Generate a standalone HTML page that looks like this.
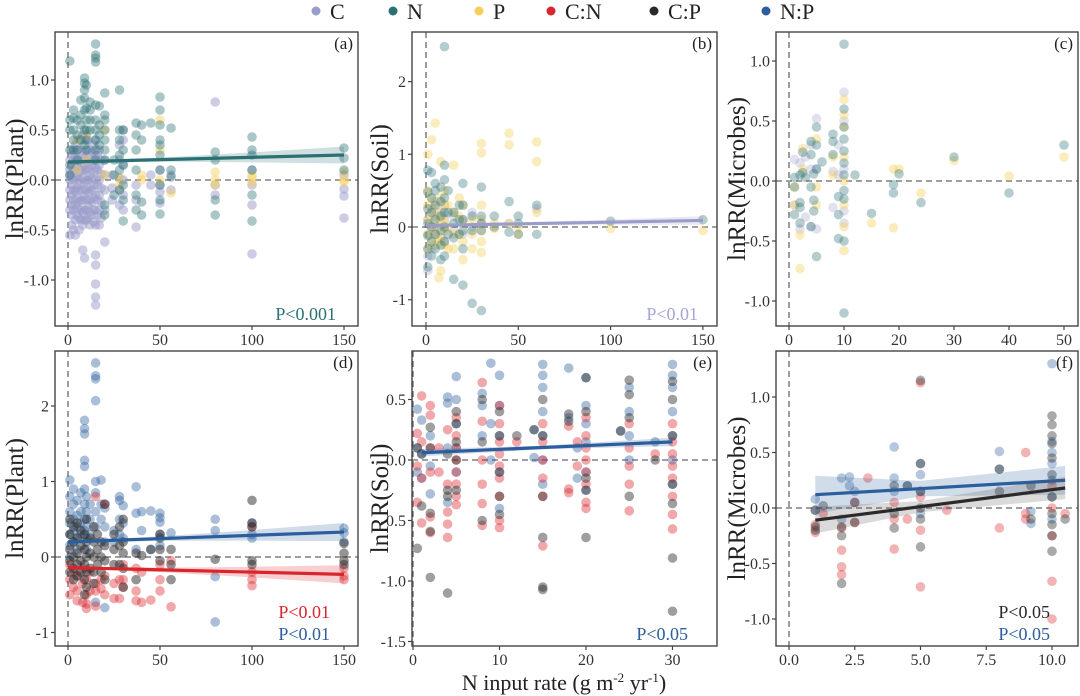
<!DOCTYPE html>
<html><head><meta charset="utf-8">
<style>
html,body{margin:0;padding:0;background:#fff;}
svg{display:block;font-family:"Liberation Serif",serif;}
</style></head>
<body>
<svg id="chart" width="1080" height="696" viewBox="0 0 1080 696" xmlns="http://www.w3.org/2000/svg">
<g id="legend"></g>
<g id="plots"></g>
<text x="564" y="690" text-anchor="middle" font-size="22" fill="#222">N input rate (g m<tspan font-size="13" dy="-8">-2</tspan><tspan dy="8"> yr</tspan><tspan font-size="13" dy="-8">-1</tspan><tspan dy="8">)</tspan></text>
</svg>
<script>
// ---- series colours ----
const COL = {C:'#9a9cca',N:'#2b7173',P:'#f4cf5c',CN:'#d9262c',CP:'#2a2a2a',NP:'#2b5e9c'};
const legendLabels = ['C','N','P','C:N','C:P','N:P'];
const legendKeys = ['C','N','P','CN','CP','NP'];

// ---- panel (a) plant: columns [x, [y...]] ----
const aC = [[1,[-0.55,-0.3,-0.2,-0.1,0,0.05,0.1,0.2]],[2,[-0.45,-0.35,-0.25,-0.15,-0.05,0.05,0.15,0.3]],[3,[-0.5,-0.3,-0.2,-0.1,0,0.1,0.2,0.25]],[4,[-0.55,-0.4,-0.25,-0.12,0.02,0.12,0.22,0.35]],[5,[-0.35,-0.28,-0.18,-0.08,0.04,0.14,0.3]],[6,[-0.5,-0.38,-0.22,-0.1,0,0.1,0.2,0.4]],[7,[-0.4,-0.3,-0.2,-0.05,0.08,0.18,0.3]],[8,[-0.7,-0.45,-0.32,-0.2,-0.1,0.02,0.12,0.25,0.45]],[9,[-0.78,-0.4,-0.3,-0.15,-0.02,0.1,0.22,0.4]],[10,[-0.4,-0.3,-0.2,-0.1,0,0.1,0.2,0.3,0.45]],[11,[-0.38,-0.25,-0.12,0,0.12,0.25,0.4]],[12,[-0.45,-0.32,-0.2,-0.08,0.05,0.18,0.3]],[13,[-0.35,-0.22,-0.1,0.02,0.15,0.28]],[14,[-0.42,-0.3,-0.18,-0.05,0.08,0.2,0.35]],[15,[-1.25,-1.17,-1.04,-0.85,-0.75,-0.45,-0.3,-0.15,0,0.12,0.25,0.4]],[16,[-0.35,-0.2,-0.05,0.1,0.25]],[17,[-0.45,-0.3,-0.15,0,0.15,0.3]],[18,[-0.38,-0.22,-0.08,0.06,0.2]],[20,[-0.62,-0.3,-0.1,0.05,0.2]],[24,[-0.2,-0.08,0.05]],[28,[-0.25,-0.1,0.02,0.2,0.35]],[30,[-0.3,-0.15,0,0.15,0.4,0.5]],[37,[-0.47,-0.2,-0.05]],[45,[0.05,-0.05]],[50,[-0.23,-0.12,-0.05,0.1]],[56,[-0.1,0.05]],[80,[0.78,-0.15,-0.05]],[100,[-0.74,-0.25,0.1,-0.05]],[150,[-0.38,-0.16,-0.09,0.05]]];
const aN = [[1,[1.19,0.6,0.5,0.3,0.15,0.05]],[3,[0.7,0.62,0.5,0.4,0.3]],[5,[0.6,0.45,0.3,0.2]],[7,[0.8,0.65,0.55,0.4]],[9,[1.02,0.97,0.9,0.82,0.7,0.5,0.35]],[10,[0.95,0.72,0.6,0.5,0.4,0.3]],[12,[0.78,0.7,0.6,0.5]],[15,[1.36,1.25,1.22,1.18,0.75,0.6,0.5,0.4,0.3,0.2]],[17,[0.74,0.55,0.45,0.35]],[20,[0.87,0.65,0.6,0.5,0.4,0.3,0.2,-0.25,-0.35]],[25,[0.2,0.05,-0.15]],[28,[0.9,0.5,0.4,0.25,0.1,-0.1]],[30,[0.5,0.3,0.15,-0.05,-0.2,-0.41]],[37,[0.57,0.45,0.3,0.1,-0.15,-0.3]],[40,[0.55,0.4,-0.22,-0.35]],[45,[0.57]],[50,[0.83,0.7,0.55,0.4,0.35,0.25,0.1,-0.05,-0.2,-0.34]],[56,[0.52,0.1,0.03]],[80,[0.28,0.2,-0.2,-0.35]],[100,[0.43,0.3,0.25,0.1,-0.15,-0.41]],[150,[0.32,0.22,0.1]]];
const aP = [[5,[0.4,0.1]],[10,[0.45,0.2]],[20,[0.5,0.05]],[28,[0.02,-0.05]],[40,[0.05,0]],[50,[0.6,0.3,0]],[56,[-0.13]],[80,[0.08,0,-0.05]],[100,[0.05,0.02,-0.03]],[150,[0.08,0,-0.02]]];
const aLineN = [[0,0.18],[150,0.25]];
const aBandN = [[0,0.025],[20,0.015],[50,0.02],[100,0.05],[150,0.085]];

// ---- panel (b) soil ----
const bN = [[1,[0.78,0.48,0.25,0.05,-0.12,-0.3,-0.55]],[3,[0.75,0.4,0.2,0,-0.2,-0.4]],[5,[0.6,0.5,0.3,0.1,-0.1,-0.3]],[8,[0.55,0.35,0.15,-0.05,-0.25,-0.45]],[10,[2.48,0.85,0.65,0.4,0.2,0,-0.2,-0.4]],[12,[0.5,0.2,-0.1]],[15,[0.2,0.05,-0.15,-0.72]],[18,[0.3,0.1,-0.1]],[20,[0.6,0.3,0.1,-0.05,-0.3,-0.8]],[25,[0.15,-0.05,-1.05]],[30,[0.55,0.15,0.05,-0.05,-1.15]],[37,[0.15,0]],[45,[0.35,-0.07]],[50,[0.15,0.05,-0.1]],[60,[0.3,-0.1]],[100,[0.08]],[150,[0.1]]];
const bP = [[1,[1.0,0.5,0.3,0.1,-0.1,-0.3]],[3,[1.2,0.4,0.2,0,-0.2]],[5,[1.43,0.3,0.1,-0.1,-0.25]],[7,[0.2,0,-0.2,-0.7]],[8,[0.9,0.4,0.1,-0.15,-0.6]],[10,[0.5,0.3,0.1,-0.05,-0.25]],[12,[0.3,0,-0.3]],[15,[0.85,0.2,-0.1,-0.3]],[18,[0.4,0.15,-0.1]],[20,[0.3,0.05,-0.2,-0.45]],[25,[0.1,-0.1,-0.3]],[30,[1.15,1.02,0.3,0.1,-0.05,-0.2,-0.35]],[37,[0.05,-0.02]],[45,[1.29,1.13,0.05]],[50,[-0.1,0]],[60,[1.17,0.9,0.2]],[100,[-0.02]],[150,[-0.05]]];
const bC = [[1,[0.1,-0.1,-0.4,-0.6]],[3,[0.25,0,-0.3]],[5,[0.35,0.15,-0.1]],[8,[0.2,-0.15]],[10,[0.3,0.1,-0.2]],[15,[0.15,-0.05]],[20,[0.1,-0.1]],[25,[0.2,0]],[30,[0.05]],[45,[0.05]],[60,[0.25]]];
const bLineC = [[0,0.02],[150,0.09]];
const bBandC = [[0,0.03],[30,0.015],[100,0.035],[150,0.06]];

// ---- panel (c) microbes ----
const cN = [[1,[0.03,-0.05,-0.28]],[2,[0.05,-0.18,-0.35,-0.22]],[2.5,[0.07,0.24]],[3,[0.03]],[4,[0.33,0.22,-0.05,-0.38]],[4.5,[0.06,-0.25,-0.16]],[5,[0.45,0.3,0.1,-0.63]],[6,[0.16]],[8,[0.39,0.33,0.22]],[9,[-0.13,-0.28,-0.48]],[10,[1.14,0.6,0.45,0.35,0.25,0.15,0.05,-0.08,-0.15,-0.5,-1.1]],[12,[0.05]],[15,[-0.27]],[19,[-0.03,-0.1]],[20,[0.06]],[24,[-0.18]],[30,[0.2]],[40,[-0.1]],[50,[0.3]]];
const cP = [[1,[-0.05,-0.2]],[2,[-0.45,-0.73]],[2.5,[0.27,0.1]],[5,[0.35,-0.05,-0.2]],[8,[0.2,0.05]],[10,[0.68,0.55,0.45,0.2,0,-0.2,-0.38,-0.58]],[15,[-0.35]],[19,[0.1,-0.39]],[20,[0.1]],[24,[-0.1]],[30,[0.17]],[40,[0.04]],[50,[0.2]]];
const cC = [[1,[0.18,-0.2]],[2,[0.15,-0.4]],[3,[0.2,-0.3]],[4,[0.3,0.1,-0.38]],[5,[0.52,0.1,-0.4]],[8,[0.08,-0.22]],[9,[0.3,0.05]],[10,[0.74,0.5,0.1,-0.25,-0.35]]];

// ---- panel (d) plant ratios ----
const dNP = [[1,[1.02,0.8,0.6,0.45,0.3,0.15,0]],[3,[0.9,0.7,0.5,0.35,0.2]],[5,[0.75,0.55,0.4,0.25,0.1]],[7,[0.85,0.6,0.45,0.3]],[9,[1.81,1.7,1.63,1.28,1.2,0.9,0.7,0.5,0.35]],[10,[0.8,0.6,0.4,0.25,0.1]],[12,[0.7,0.5,0.3]],[15,[2.57,2.4,2.36,2.07,1.0,0.85,0.6,0.4,-0.6]],[18,[1.02,0.7,0.5]],[20,[0.65,0.4,0.2,-0.67]],[25,[0.35,0.2]],[28,[0.8,0.75,0.5,0.3]],[30,[0.68,0.45,0.25]],[37,[0.93,0.58,0.1]],[40,[0.6,0.35]],[45,[0.61,0.1]],[50,[0.58,0.52,0.46,0.3,0.15]],[56,[0.32]],[80,[0.5,0.35,-0.26,-0.86]],[100,[0.45,0.3,0.25]],[150,[0.38,0.32,0.2]]];
const dCN = [[1,[-0.1,-0.3,-0.5]],[3,[-0.2,-0.4]],[5,[-0.25,-0.45,-0.58]],[8,[-0.15,-0.35,-0.6]],[10,[-0.3,-0.5,-0.62,-0.68]],[12,[-0.2,-0.45]],[15,[-0.35,-0.45,-0.65,0.8]],[18,[-0.3,-0.42]],[20,[0.7,-0.25,-0.5]],[25,[-0.35,-0.55]],[28,[-0.3,-0.55]],[30,[-0.1,-0.3,-0.4]],[37,[-0.15,-0.45,-0.58]],[40,[-0.2,-0.6]],[45,[-0.57]],[50,[-0.1,-0.3,-0.45]],[56,[-0.05,-0.66]],[100,[0.4,-0.2,-0.3,-0.38]],[150,[-0.15,-0.25,-0.3]]];
const dCP = [[1,[0.5,0.3,0.1,-0.05,-0.2]],[3,[0.4,0.2,0,-0.15,-0.3]],[5,[0.45,0.25,0.05,-0.1,-0.25]],[7,[0.35,0.15,-0.05,-0.2]],[9,[0.3,0.1,-0.1,-0.3,-0.5]],[10,[0.5,0.2,0,-0.2,-0.4]],[12,[0.25,0.05,-0.15]],[14,[0.4,0.2,0,-0.2,-0.35]],[16,[0.3,0.1,-0.1]],[18,[0.2,0,-0.2]],[20,[0.7,0.15,-0.05,-0.3]],[25,[0.3,0.1,-0.1]],[28,[0.4,0.15,-0.1]],[30,[0.5,0.2,0.05,-0.15,-0.4]],[37,[0.05,-0.3]],[40,[0.02]],[45,[0.1]],[50,[0.3,0.25,0.1,-0.05]],[56,[0.1,-0.1,-0.3]],[80,[-0.03]],[100,[0.75,0.45,0.4,-0.05,-0.1]],[150,[0.18,0.05,-0.1,-0.05]]];
const dLineNP = [[0,0.2],[150,0.33]];
const dBandNP = [[0,0.03],[20,0.02],[50,0.03],[100,0.07],[150,0.12]];
const dLineCN = [[0,-0.14],[150,-0.23]];
const dBandCN = [[0,0.03],[20,0.02],[50,0.03],[100,0.07],[150,0.12]];

// ---- panel (e) soil ratios ----
const eNP = [[0.5,[0.42,0.1,-0.1]],[1,[0.33,0.05,-0.15]],[2,[0.2,-0.05,-0.28]],[4,[0.52,0.47,0.1,-0.35]],[5,[0.69,0.5,0.3,0.1,-0.1]],[8,[0.55,0.45,0.2]],[9,[0.8,0.3,0]],[10,[0.7,0.45,0.2,-0.1,-0.4]],[14,[0.25,0.02]],[15,[0.79,0.7,0.6,0.4,0.2,0,-0.2]],[18,[0.76,0.35]],[19,[0.1,-0.15]],[20,[0.68,0.45,0.3,0.15,-0.1,-0.25]],[24,[0.24]],[25,[0.6,0.4,0.2,0]],[28,[0.15]],[30,[0.79,0.7,0.6,0.4,0.2,0,-0.2]]];
const eCN = [[0.5,[0.22,-0.05,-0.35]],[1,[0.53,0.15,-0.15,-0.52]],[2,[0.45,0.37,0.1,-0.1,-0.47,-0.6]],[3,[0.1,-0.1]],[4,[0.25,-0.2,-0.43,-0.53,-0.64]],[5,[0.35,0.2,0.1,0,-0.1,-0.2,-0.3,-0.37]],[8,[0.64,0.32,0,-0.2,-0.36,-0.54]],[10,[0.45,0.3,0.15,0.05,-0.05,-0.15,-0.3,-0.5,-0.56]],[12,[0.15]],[15,[0.3,0.15,0,-0.15,-0.3,-0.71]],[18,[0.28,-0.24,-0.27]],[19,[0.15,-0.05]],[20,[0.35,0.2,0.1,0,-0.1,-0.2,-0.35,-0.4]],[25,[0.3,0.1,-0.05,-0.2,-0.42]],[28,[0.05]],[30,[0.3,0.15,0.05,-0.05,-0.15,-0.3,-0.45,-0.57]]];
const eCP = [[0.5,[-0.73,0.1]],[1,[-0.38,0.05]],[2,[-0.44,-0.59,-0.97,0.27,0.1]],[4,[-0.25,-0.3,-1.1,0.05]],[5,[0.4,0.3,0.15,0,-0.25]],[8,[0.5,-0.5,0.15]],[10,[0.4,0.2,-0.1,-0.3,-0.45]],[12,[0.2]],[14,[0.25]],[15,[0.5,0.2,-0.3,-0.64,-1.05,-1.07]],[18,[0.38,0.32]],[20,[0.68,0.4,-0.15,-0.25,-0.64]],[24,[0.24]],[25,[0.66,0.54,0.35,-0.3]],[28,[0]],[30,[0.65,0.5,0.2,-0.2,-0.36,-0.81,-1.25]]];
const eLineNP = [[1,0.06],[30,0.15]];
const eBandNP = [[1,0.03],[15,0.015],[30,0.035]];

// ---- panel (f) microbe ratios ----
const fNP = [[1,[0.08,-0.02]],[2,[0.27,-0.1]],[2.3,[0.28,0.2]],[2.5,[0.15]],[4,[0.55,0.27,0.15]],[4.5,[0.2]],[5,[0.4,0.3,0.15,-0.05]],[8,[0.51,0.35]],[9.2,[-0.03,-0.14]],[10,[1.3,0.6,0.5,0.4,0.25,0.1,-0.1]]];
const fCN = [[1,[-0.15,-0.22]],[1.3,[-0.05]],[2,[-0.38,-0.53,-0.6,-0.18]],[2.5,[-0.13,0.05]],[3,[0.27]],[4,[-0.37,-0.1,0.05]],[4.5,[-0.1]],[5,[1.13,0.1,-0.2,-0.71]],[6,[-0.02]],[8,[-0.18]],[9,[0.5,-0.05,-0.1]],[10,[0.2,0,-0.25,-0.66,-1.0]],[10.5,[-0.05]]];
const fCP = [[1,[-0.02,-0.17,-0.2]],[1.3,[0.02]],[2,[-0.17,-0.25,-0.68]],[2.5,[0.05,-0.13]],[4,[0.2,-0.05,-0.18]],[4.5,[0.2]],[5,[1.15,0.4,0.15,0,-0.1,-0.35]],[8,[0.35,0.15]],[9.2,[0.2,-0.1]],[10,[0.83,0.75,0.65,0.58,0.45,0.3,0.1,-0.05,-0.15,-0.25,-0.39]],[10.5,[-0.1]]];
const fLineNP = [[1,0.12],[10.5,0.25]];
const fBandNP = [[1,0.17],[5,0.07],[10.5,0.13]];
const fLineCP = [[1,-0.11],[10.5,0.18]];
const fBandCP = [[1,0.12],[5,0.05],[10.5,0.1]];

// ---- tick labels ----
const xTicks150 = [0,50,100,150];
const xTicks50 = [0,10,20,30,40,50];
const xTicks30 = [0,10,20,30];
const xTicks10 = [0,2.5,5,7.5,10];
const yTicksA = [1.0,0.5,0.0,-0.5,-1.0];
const yTicksB = [2,1,0,-1];
const yTicksD = [2,1,0,-1];
const yTicksE = [0.5,0.0,-0.5,-1.0,-1.5];

const NS='http://www.w3.org/2000/svg';
function mk(tag, attrs, parent){const e=document.createElementNS(NS,tag);for(const k in attrs)e.setAttribute(k,attrs[k]);if(parent)parent.appendChild(e);return e;}

// legend
const lg=document.getElementById('legend');
const legX=[316,393,479,551,654,766];
legendKeys.forEach((k,i)=>{
  const g=mk('g',{},lg);
  
  
  mk('circle',{cx:legX[i],cy:11,r:4.5,fill:COL[k]},g);
  const t=mk('text',{x:legX[i]+14,y:19,'font-size':22,fill:'#222'},g);
  t.textContent=legendLabels[i];
});

const plots=document.getElementById('plots');
function fmt(v,dec){return dec?v.toFixed(dec):String(v);}

function panel(p){
  const g=mk('g',{},plots);
  
  
  const sx=v=>p.x0px+(v-p.xa)*p.xs;
  const sy=v=>p.y0px-(v-p.ya)*p.ys;
  const clipId='clip'+p.id;
  const cp=mk('clipPath',{id:clipId},g);
  mk('rect',{x:p.L,y:p.T,width:p.R-p.L,height:p.B-p.T},cp);
  const inner=mk('g',{'clip-path':'url(#'+clipId+')'},g);
  const vz=mk('line',{x1:sx(0),x2:sx(0),y1:p.T,y2:p.B,stroke:'#666','stroke-width':1.3,'stroke-dasharray':'6,4'},inner);
  
  
  const hz=mk('line',{x1:p.L,x2:p.R,y1:sy(0),y2:sy(0),stroke:'#666','stroke-width':1.3,'stroke-dasharray':'6,4'},inner);
  
  
  p.series.forEach(s=>{
    const sg=mk('g',{},inner);
    
    
    s.data.forEach(col=>{col[1].forEach(y=>{
      const c=mk('circle',{cx:sx(col[0]),cy:sy(y),r:4.8,fill:COL[s.key],'fill-opacity':s.op||0.4},sg);
      
      
    });});
  });
  (p.lines||[]).forEach(l=>{
    const a=l.line[0],b=l.line[1];
    const f=x=>a[1]+(b[1]-a[1])*(x-a[0])/(b[0]-a[0]);
    const up=l.band.map(q=>sx(q[0])+','+sy(f(q[0])+q[1]));
    const dn=l.band.slice().reverse().map(q=>sx(q[0])+','+sy(f(q[0])-q[1]));
    const band=mk('polygon',{points:up.concat(dn).join(' '),fill:l.bandCol||COL[l.key],'fill-opacity':0.22},inner);
    
    
    const ln=mk('line',{x1:sx(a[0]),y1:sy(a[1]),x2:sx(b[0]),y2:sy(b[1]),stroke:COL[l.key],'stroke-width':3.2},inner);
    
    
  });
  const fr=mk('rect',{x:p.L,y:p.T,width:p.R-p.L,height:p.B-p.T,fill:'none',stroke:'#444','stroke-width':1.4},g);
  
  
  p.xt.forEach(v=>{
    mk('line',{x1:sx(v),x2:sx(v),y1:p.B,y2:p.B+4,stroke:'#444','stroke-width':1.2},g);
    const t=mk('text',{x:sx(v),y:p.B+19,'text-anchor':'middle','font-size':16,fill:'#333'},g);
    
    
    t.textContent=fmt(v,p.xdec);
  });
  p.yt.forEach(v=>{
    mk('line',{x1:p.L-4,x2:p.L,y1:sy(v),y2:sy(v),stroke:'#444','stroke-width':1.2},g);
    const t=mk('text',{x:p.L-6,y:sy(v)+5.5,'text-anchor':'end','font-size':16,fill:'#333'},g);
    
    
    t.textContent=fmt(v,p.ydec);
  });
  const yt=mk('text',{x:0,y:0,'text-anchor':'middle','font-size':25,fill:'#222',transform:'translate('+p.ytx+','+((p.T+p.B)/2)+') rotate(-90)'},g);
  
  
  yt.textContent=p.ytitle;
  const pl=mk('text',{x:p.R-5,y:p.T+17,'text-anchor':'end','font-size':17,fill:'#222'},g);
  
  
  pl.textContent='('+p.id+')';
  (p.pv||[]).forEach(q=>{
    const t=mk('text',{x:q.x,y:q.y,'text-anchor':'end','font-size':18,fill:q.c},g);
    
    
    t.textContent=q.t;
  });
}

panel({id:'a',L:55,R:358,T:32,B:326,x0px:68,xa:0,xs:1.84,y0px:180,ya:0,ys:100,xt:xTicks150,yt:yTicksA,ydec:1,ytx:23,ytitle:'lnRR(Plant)',
  series:[{key:'C',data:aC,op:0.5},{key:'P',data:aP,op:0.45},{key:'N',data:aN,op:0.4}],
  lines:[{key:'N',line:aLineN,band:aBandN}],pv:[{t:'P<0.001',x:336,y:320,c:COL.N}]});
panel({id:'b',L:412,R:717,T:32,B:326,x0px:426,xa:0,xs:1.846,y0px:227,ya:0,ys:72.7,xt:xTicks150,yt:yTicksB,ytx:388,ytitle:'lnRR(Soil)',
  series:[{key:'C',data:bC,op:0.3},{key:'P',data:bP,op:0.4},{key:'N',data:bN,op:0.35}],
  lines:[{key:'C',line:bLineC,band:bBandC}],pv:[{t:'P<0.01',x:698,y:320,c:'#a4a6d4'}]});
panel({id:'c',L:776,R:1078,T:32,B:326,x0px:789,xa:0,xs:5.5,y0px:181,ya:0,ys:120,xt:xTicks50,yt:yTicksA,ydec:1,ytx:745,ytitle:'lnRR(Microbes)',
  series:[{key:'C',data:cC,op:0.3},{key:'P',data:cP,op:0.4},{key:'N',data:cN,op:0.35}],lines:[],pv:[]});
panel({id:'d',L:55,R:358,T:351,B:646,x0px:68,xa:0,xs:1.84,y0px:557,ya:0,ys:75.5,xt:xTicks150,yt:yTicksD,ytx:23,ytitle:'lnRR(Plant)',
  series:[{key:'NP',data:dNP,op:0.4},{key:'CN',data:dCN,op:0.4},{key:'CP',data:dCP,op:0.5}],
  lines:[{key:'NP',line:dLineNP,band:dBandNP},{key:'CN',line:dLineCN,band:dBandCN}],
  pv:[{t:'P<0.01',x:330,y:618,c:COL.CN},{t:'P<0.01',x:330,y:640,c:COL.NP}]});
panel({id:'e',L:412,R:717,T:351,B:646,x0px:413,xa:0,xs:8.65,y0px:460,ya:0,ys:121,xt:xTicks30,yt:yTicksE,ydec:1,ytx:388,ytitle:'lnRR(Soil)',
  series:[{key:'NP',data:eNP,op:0.4},{key:'CN',data:eCN,op:0.4},{key:'CP',data:eCP,op:0.45}],
  lines:[{key:'NP',line:eLineNP,band:eBandNP}],pv:[{t:'P<0.05',x:688,y:640,c:COL.NP}]});
panel({id:'f',L:776,R:1078,T:351,B:646,x0px:789,xa:0,xs:26.3,y0px:508,ya:0,ys:111,xt:xTicks10,xdec:1,yt:yTicksA,ydec:1,ytx:745,ytitle:'lnRR(Microbes)',
  series:[{key:'NP',data:fNP,op:0.35},{key:'CN',data:fCN,op:0.35},{key:'CP',data:fCP,op:0.4}],
  lines:[{key:'NP',line:fLineNP,band:fBandNP},{key:'CP',line:fLineCP,band:fBandCP,bandCol:'#555'}],
  pv:[{t:'P<0.05',x:1050,y:618,c:COL.CP},{t:'P<0.05',x:1050,y:640,c:COL.NP}]});
</script>
</body></html>
